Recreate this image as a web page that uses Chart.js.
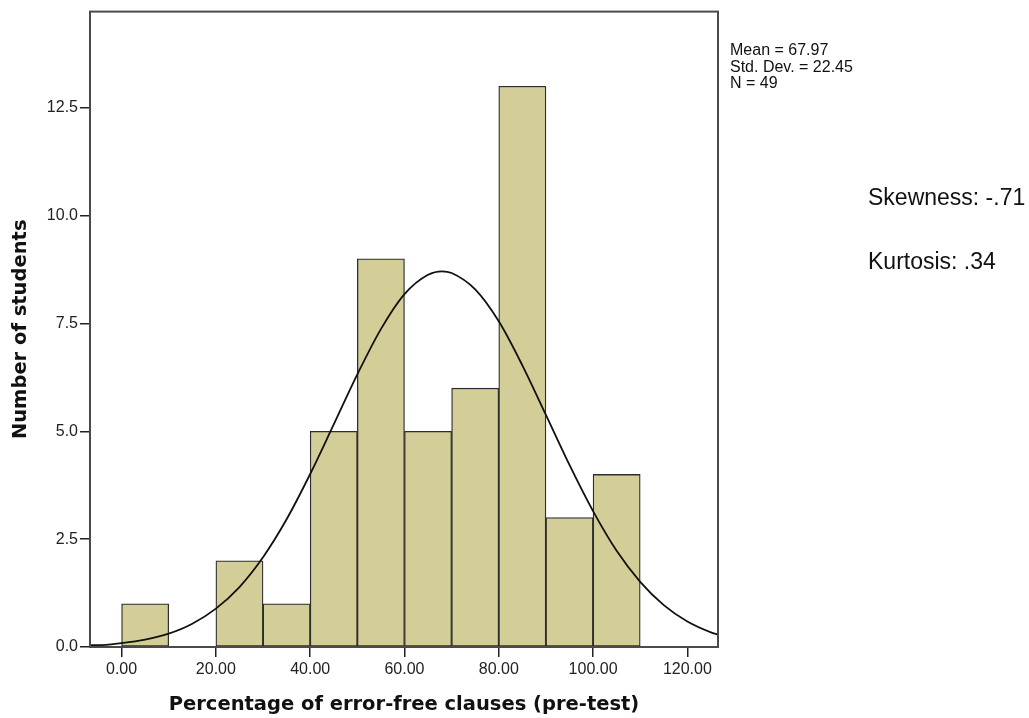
<!DOCTYPE html>
<html>
<head>
<meta charset="utf-8">
<title>Percentage of error-free clauses (pre-test)</title>
<script src="https://cdn.jsdelivr.net/npm/chart.js@4/dist/chart.umd.min.js"></script>
<style>
  html, body { margin: 0; padding: 0; background: #fff; }
  #wrap { position: relative; width: 1029px; height: 718px; }
</style>
</head>
<body>
<div id="wrap"><canvas id="histChart" width="1029" height="718"></canvas></div>
<script>
// histogram bins (lower edge, width 10) and number of students in each
const binStarts = [0, 10, 20, 30, 40, 50, 60, 70, 80, 90, 100];
const binCounts = [1, 0, 2, 1, 5, 9, 5, 6, 13, 3, 4];
const binWidth = 10;

// normal curve read along the x axis
const curveX = [-6.7, -5, 0, 5, 10, 15, 20, 25, 30, 35, 40, 45, 50, 55, 60, 65, 68, 70, 75, 80, 85, 90, 95, 100, 105, 110, 115, 120, 125, 126.5];
const curveY = [0.04, 0.04, 0.09, 0.17, 0.31, 0.54, 0.89, 1.39, 2.08, 2.96, 4.01, 5.16, 6.32, 7.37, 8.18, 8.63, 8.71, 8.67, 8.29, 7.55, 6.53, 5.38, 4.22, 3.15, 2.23, 1.51, 0.97, 0.59, 0.34, 0.29];

const xTicks = [0, 20, 40, 60, 80, 100, 120];
const yTicks = [0, 2.5, 5, 7.5, 10, 12.5];

const statLines = ['Mean = 67.97', 'Std. Dev. = 22.45', 'N = 49'];
const shapeLines = ['Skewness: -.71', 'Kurtosis: .34'];

const barData = binStarts.map((s, i) => ({ x: s + binWidth / 2, y: binCounts[i] }));
const curveData = curveX.map((x, i) => ({ x, y: curveY[i] }));

// box around the plot + the text blocks on the right
const framePlugin = {
    id: 'frame',
    afterDraw(chart) {
        const { ctx, chartArea: a } = chart;
        ctx.save();
        ctx.strokeStyle = '#4a4a4a';
        ctx.lineWidth = 2;
        ctx.strokeRect(a.left, a.top, a.right - a.left, a.bottom - a.top);

        ctx.fillStyle = '#111';
        ctx.textBaseline = 'middle';
        ctx.font = '16px "Liberation Sans", Arial, sans-serif';
        statLines.forEach((t, i) => ctx.fillText(t, a.right + 12, 51 + i * 16.5));

        ctx.font = '23px "Liberation Sans", Arial, sans-serif';
        shapeLines.forEach((t, i) => ctx.fillText(t, 868, 199 + i * 64));
        ctx.restore();
    }
};

const tickFont = { family: '"Liberation Sans", Arial, sans-serif', size: 16 };
const titleFont = { family: '"DejaVu Sans", sans-serif', size: 19.5, weight: 'bold' };

new Chart(document.getElementById('histChart'), {
    type: 'bar',
    data: {
        datasets: [
            {
                type: 'line',
                data: curveData,
                borderColor: '#111',
                borderWidth: 1.8,
                pointRadius: 0,
                cubicInterpolationMode: 'monotone',
                fill: false,
                order: 0
            },
            {
                type: 'bar',
                data: barData,
                backgroundColor: '#d3ce98',
                borderColor: '#2e2e2e',
                borderWidth: 1.3,
                borderSkipped: false,
                barPercentage: 1,
                categoryPercentage: 1,
                order: 1
            }
        ]
    },
    options: {
        responsive: false,
        animation: false,
        layout: { padding: { top: 10, right: 311, left: 0, bottom: 0 } },
        plugins: { legend: { display: false }, tooltip: { enabled: false } },
        scales: {
            x: {
                type: 'linear',
                offset: false,
                min: -6.7,
                max: 126.5,
                afterBuildTicks: axis => { axis.ticks = xTicks.map(v => ({ value: v })); },
                afterFit: axis => { axis.height = 71; },
                ticks: {
                    color: '#222',
                    font: tickFont,
                    padding: 3,
                    maxRotation: 0,
                    callback: v => Number(v).toFixed(2)
                },
                grid: { offset: false, drawOnChartArea: false, drawTicks: true, tickLength: 10, color: '#222', lineWidth: 1.5 },
                border: { display: false },
                title: {
                    display: true,
                    text: 'Percentage of error-free clauses (pre-test)',
                    color: '#111',
                    font: titleFont,
                    padding: { top: 0, bottom: 1 }
                }
            },
            y: {
                min: 0,
                max: 14.73,
                afterBuildTicks: axis => { axis.ticks = yTicks.map(v => ({ value: v })); },
                afterFit: axis => { axis.width = 90; },
                ticks: {
                    color: '#222',
                    font: tickFont,
                    padding: 2,
                    callback: v => Number(v).toFixed(1)
                },
                grid: { drawOnChartArea: false, drawTicks: true, tickLength: 10, color: '#222', lineWidth: 1.5 },
                border: { display: false },
                title: {
                    display: true,
                    text: 'Number of students',
                    color: '#111',
                    font: titleFont,
                    padding: { top: 9, bottom: 0 }
                }
            }
        }
    },
    plugins: [framePlugin]
});
</script>
</body>
</html>
